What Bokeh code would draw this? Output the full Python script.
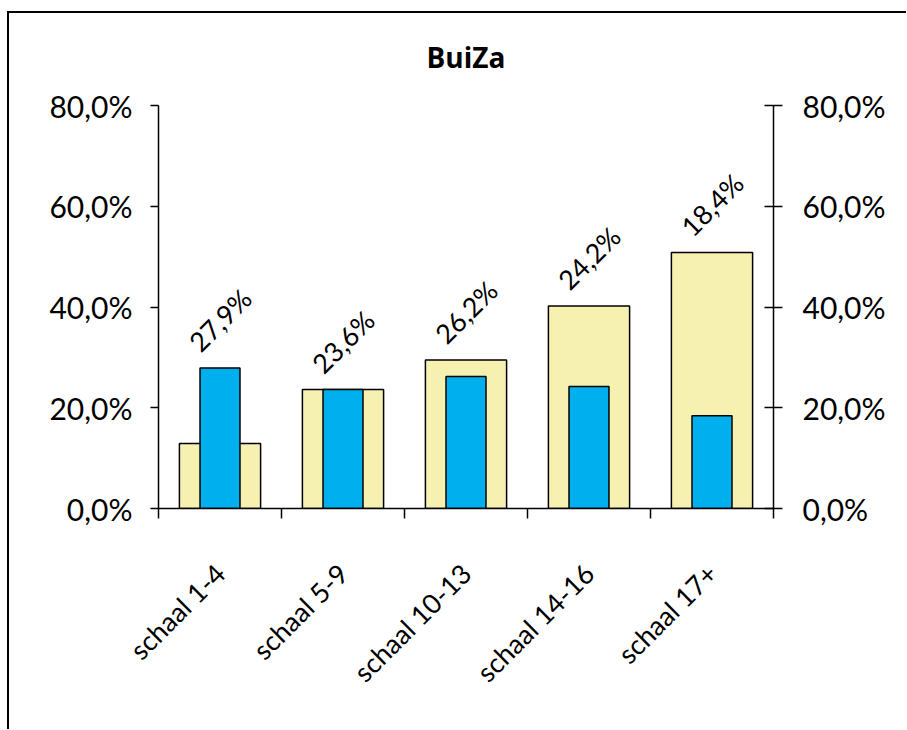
import numpy as np
from bokeh.plotting import figure
from bokeh.models import ColumnDataSource, LinearAxis, FixedTicker, Range1d
from bokeh.core.properties import value
from bokeh.embed import file_html
from bokeh.resources import INLINE

categories = ["schaal 1-4", "schaal 5-9", "schaal 10-13", "schaal 14-16", "schaal 17+"]
yellow_values = [12.9, 23.6, 29.5, 40.2, 50.8]
blue_values = [27.9, 23.6, 26.2, 24.2, 18.4]
y_ticks = [0, 20, 40, 60, 80]
y_tick_labels = ["0,0%", "20,0%", "40,0%", "60,0%", "80,0%"]
title_text = "BuiZa"

x = [i + 0.5 for i in range(len(categories))]
boundaries = list(range(len(categories) + 1))
label_y = [max(a, b) for a, b in zip(yellow_values, blue_values)]
labels = [f"{v:.1f}".replace(".", ",") + "%" for v in blue_values]

src = ColumnDataSource(dict(x=x, yellow=yellow_values, blue=blue_values, ly=label_y, lab=labels))

FONT = "Lato"

p = figure(frame_width=615, frame_height=403,
           x_range=Range1d(0, len(categories)), y_range=Range1d(0, 80),
           output_backend="svg", toolbar_location=None,
           min_border_left=158, min_border_right=133, min_border_top=105, min_border_bottom=221)

# outer frame line (top and left edges, as in the reference)
p.styles = {"background-color": "white",
            "box-shadow": "inset 7px 11px 0 0 white, inset 9px 13px 0 0 black"}

p.title.text = title_text
p.title.align = "center"
p.title.offset = -5
p.title.text_font = "Open Sans"
p.title.text_font_style = "bold"
p.title.text_font_size = "28px"
p.title.text_color = "black"
p.title.standoff = 60

p.outline_line_color = None
p.xgrid.grid_line_color = None
p.ygrid.grid_line_color = None
p.background_fill_color = "white"
p.border_fill_color = None

p.vbar(x="x", top="yellow", width=0.66, bottom=0, source=src,
       fill_color="#F6F1B1", line_color="black", line_width=1.5)
p.vbar(x="x", top="blue", width=0.325, bottom=0, source=src,
       fill_color="#00B0EE", line_color="black", line_width=1.5)

p.text(x="x", y="ly", text="lab", source=src, angle=np.pi / 4,
       text_align="center", text_baseline="middle", y_offset=-48,
       text_font=value(FONT), text_font_size="27px", text_color="black")

# left axis
ya = p.yaxis[0]
ya.ticker = FixedTicker(ticks=y_ticks)
ya.major_label_overrides = {t: l for t, l in zip(y_ticks, y_tick_labels)}
ya.minor_tick_line_color = None
ya.major_tick_out = 8
ya.major_tick_in = 0
ya.major_label_standoff = 18
ya.axis_line_width = 1.5
ya.major_tick_line_width = 1.5
ya.axis_line_color = "black"
ya.major_tick_line_color = "black"
ya.major_label_text_font = FONT
ya.major_label_text_font_size = "30px"
ya.major_label_text_color = "black"

# right axis
ra = LinearAxis(ticker=FixedTicker(ticks=y_ticks),
                major_label_overrides={t: l for t, l in zip(y_ticks, y_tick_labels)})
ra.minor_tick_line_color = None
ra.major_tick_out = 9
ra.major_tick_in = 9
ra.major_label_standoff = 20
ra.axis_line_width = 1.5
ra.major_tick_line_width = 1.5
ra.axis_line_color = "black"
ra.major_tick_line_color = "black"
ra.major_label_text_font = FONT
ra.major_label_text_font_size = "30px"
ra.major_label_text_color = "black"
p.add_layout(ra, "right")

# bottom axis
xa = p.xaxis[0]
xa.ticker = FixedTicker(ticks=x, minor_ticks=boundaries)
xa.major_label_overrides = {xi: c for xi, c in zip(x, categories)}
xa.major_tick_out = 0
xa.major_tick_in = 0
xa.minor_tick_out = 10
xa.minor_tick_in = 0
xa.minor_tick_line_color = "black"
xa.minor_tick_line_width = 1.5
xa.axis_line_width = 1.5
xa.axis_line_color = "black"
xa.major_label_orientation = np.pi / 4
xa.major_label_standoff = 50
xa.major_label_text_font = FONT
xa.major_label_text_font_size = "27px"
xa.major_label_text_color = "black"

open("out.html", "w").write(file_html(p, INLINE))
